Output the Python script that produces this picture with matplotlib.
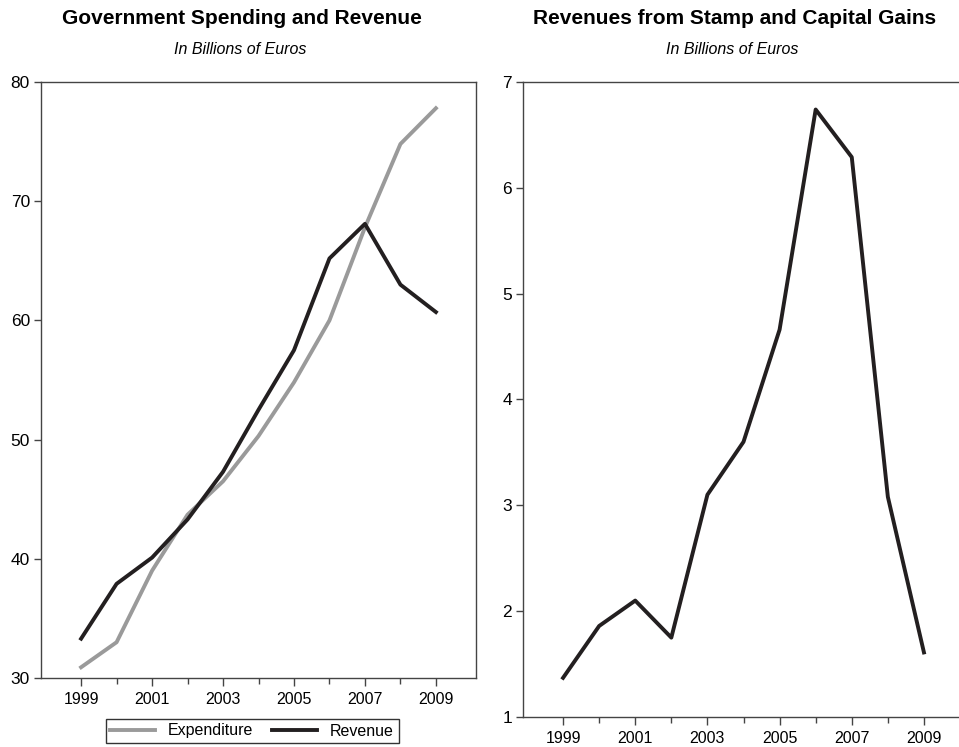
import matplotlib
matplotlib.use("Agg")
import matplotlib.pyplot as plt
from matplotlib.ticker import MultipleLocator

plt.rcParams['font.family'] = ['Liberation Sans', 'DejaVu Sans']

years = [1999, 2000, 2001, 2002, 2003, 2004, 2005, 2006, 2007, 2008, 2009]
expenditure = [30.9, 33.0, 39.0, 43.7, 46.5, 50.3, 54.8, 60.0, 67.8, 74.8, 77.8]
revenue = [33.3, 37.9, 40.1, 43.3, 47.3, 52.5, 57.5, 65.2, 68.1, 63.0, 60.7]
stamp_cg = [1.37, 1.86, 2.10, 1.75, 3.10, 3.60, 4.66, 6.74, 6.29, 3.08, 1.61]
year_labels = [1999, 2001, 2003, 2005, 2007, 2009]

GRAY = '#9a9a9a'
BLACK = '#231f20'
SPINE = '#444444'

W, H = 959, 747
fig = plt.figure(figsize=(W / 100, H / 100), dpi=100)


def px(x0, y0, x1, y1):
    # pixel box -> figure fraction [left, bottom, width, height]
    return [x0 / W, 1 - y1 / H, (x1 - x0) / W, (y1 - y0) / H]


def style(ax):
    for s in ax.spines.values():
        s.set_color(SPINE)
        s.set_linewidth(1.0)
    ax.set_xticks(year_labels)
    ax.set_xticks(years, minor=True)
    ax.tick_params(axis='x', which='major', direction='out', length=6,
                   width=1, colors=SPINE, labelcolor='black', labelsize=11.5, pad=4)
    ax.tick_params(axis='x', which='minor', direction='out', length=4,
                   width=1, colors=SPINE)
    ax.tick_params(axis='y', direction='out', length=5, width=1,
                   colors=SPINE, labelcolor='black', labelsize=12.5, pad=3)


# left panel
ax1 = fig.add_axes(px(41, 82, 476, 678))
l1, = ax1.plot(years, expenditure, color=GRAY, lw=2.8, label='Expenditure')
l2, = ax1.plot(years, revenue, color=BLACK, lw=2.8, label='Revenue')
ax1.set_xlim(1997.87, 2010.13)
ax1.set_ylim(30, 80)
ax1.yaxis.set_major_locator(MultipleLocator(10))
style(ax1)

# right panel (runs off the right edge)
ax2 = fig.add_axes(px(523, 82, 964, 717))
ax2.plot(years, stamp_cg, color=BLACK, lw=2.8)
ax2.set_xlim(1997.89, 2010.11)
ax2.set_ylim(1, 7)
ax2.yaxis.set_major_locator(MultipleLocator(1))
style(ax2)

fig.text(242 / W, 1 - 19 / H, 'Government Spending and Revenue',
         ha='center', va='center', fontsize=15, fontweight='bold')
fig.text(240 / W, 1 - 49 / H, 'In Billions of Euros',
         ha='center', va='center', fontsize=11.5, style='italic')
fig.text(735 / W, 1 - 19 / H, 'Revenues from Stamp and Capital Gains',
         ha='center', va='center', fontsize=15, fontweight='bold')
fig.text(732 / W, 1 - 49 / H, 'In Billions of Euros',
         ha='center', va='center', fontsize=11.5, style='italic')

leg = fig.legend(handles=[l1, l2], loc='center', ncol=2,
                 bbox_to_anchor=(252 / W, 1 - 731 / H), fontsize=11.5,
                 frameon=True, fancybox=False, edgecolor='black',
                 handlelength=2.8, columnspacing=1.2, handletextpad=0.8,
                 borderpad=0.3, borderaxespad=0)
leg.get_frame().set_linewidth(1.0)

fig.savefig('out.png', dpi=100)
